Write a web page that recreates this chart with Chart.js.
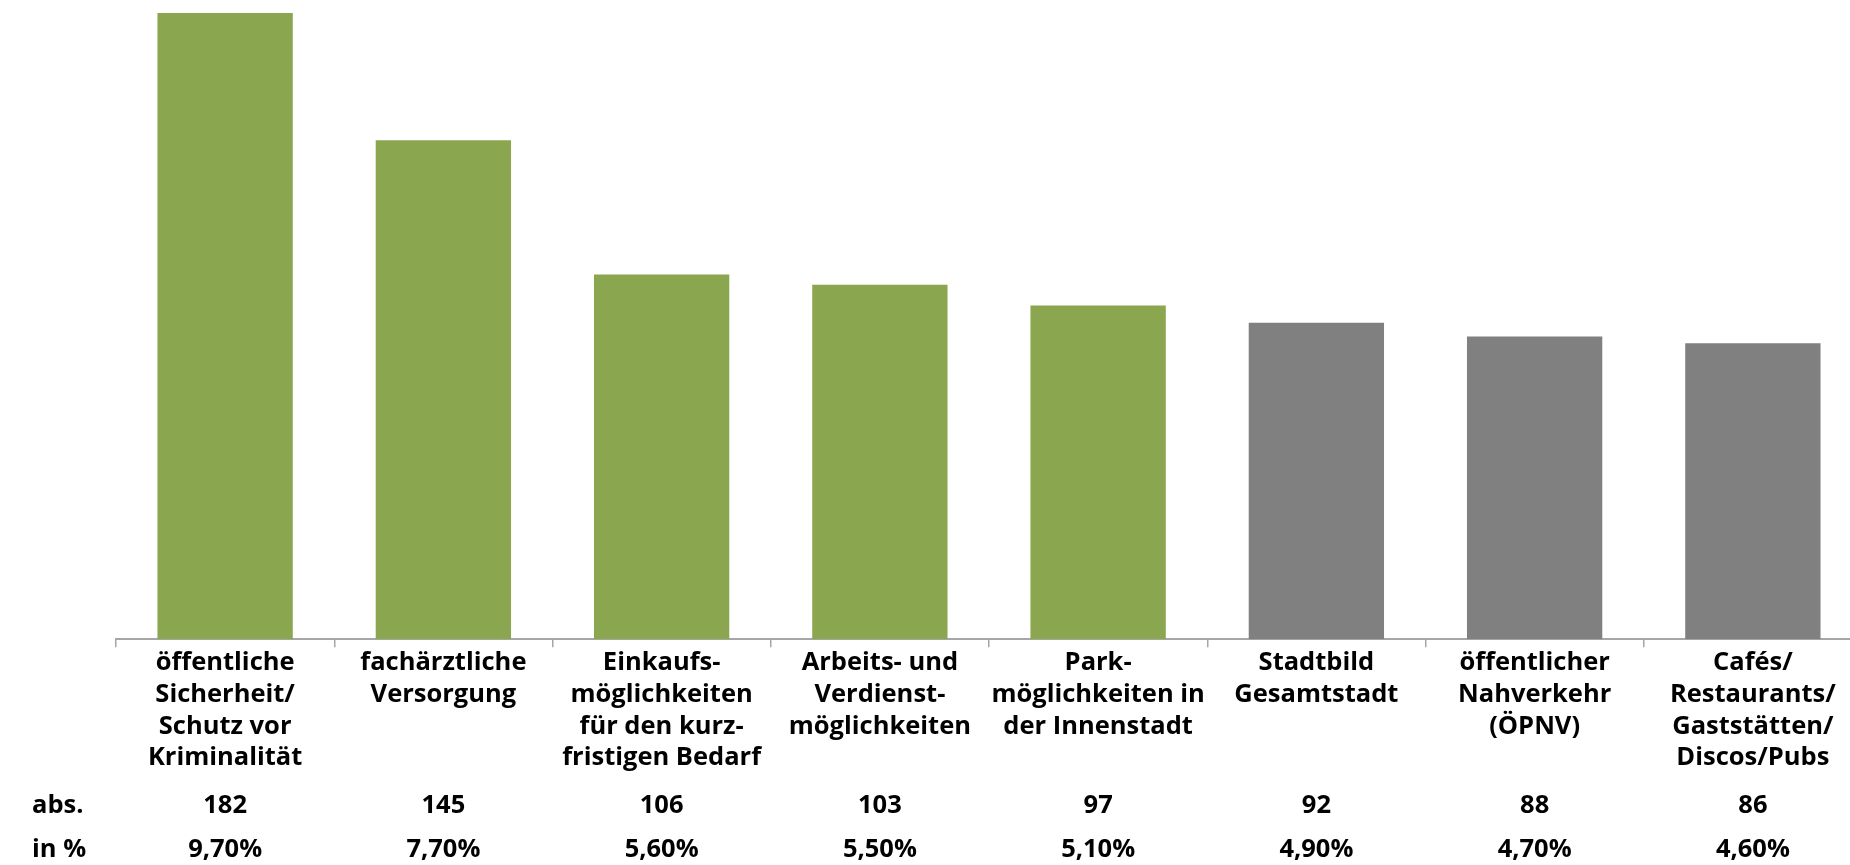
<!DOCTYPE html>
<html>
<head>
<meta charset="utf-8">
<script src="https://cdn.jsdelivr.net/npm/chart.js@4/dist/chart.umd.min.js"></script>
<style>
  html, body { margin: 0; padding: 0; background: #fff; overflow: hidden; }
  #wrap { width: 1862px; height: 865px; }
</style>
</head>
<body>
<div id="wrap"><canvas id="chart" width="1862" height="865"></canvas></div>
<script>
"use strict";

// data
const categories = [
  ["öffentliche", "Sicherheit/", "Schutz vor", "Kriminalität"],
  ["fachärztliche", "Versorgung"],
  ["Einkaufs-", "möglichkeiten", "für den kurz-", "fristigen Bedarf"],
  ["Arbeits- und", "Verdienst-", "möglichkeiten"],
  ["Park-", "möglichkeiten in", "der Innenstadt"],
  ["Stadtbild", "Gesamtstadt"],
  ["öffentlicher", "Nahverkehr", "(ÖPNV)"],
  ["Cafés/", "Restaurants/", "Gaststätten/", "Discos/Pubs"]
];
const absValues = [182, 145, 106, 103, 97, 92, 88, 86];
const pctValues = [9.7, 7.7, 5.6, 5.5, 5.1, 4.9, 4.7, 4.6];
const rowLabels = ["abs.", "in %"];

const greenCount = 5;
const FONT = "'Open Sans', sans-serif";
const FONT_SIZE = 25.5;

function fmtPct(v) {
  return v.toFixed(2).replace(".", ",") + "%";
}

// draws the abs / in % rows under the axis labels
const tableRows = {
  id: "tableRows",
  afterDraw(chart) {
    const ctx = chart.ctx;
    const x = chart.scales.x;
    const base = chart.chartArea.bottom;
    const rows = [
      { y: base + 167, label: rowLabels[0], vals: absValues.map(v => String(v)) },
      { y: base + 210.5, label: rowLabels[1], vals: pctValues.map(fmtPct) }
    ];
    ctx.save();
    ctx.fillStyle = "#000";
    ctx.font = "bold " + FONT_SIZE + "px " + FONT;
    ctx.textBaseline = "middle";
    rows.forEach(r => {
      ctx.textAlign = "left";
      ctx.fillText(r.label, 32, r.y);
      ctx.textAlign = "center";
      r.vals.forEach((s, i) => ctx.fillText(s, x.getPixelForValue(i), r.y));
    });
    ctx.restore();
  }
};

const ctx = document.getElementById("chart").getContext("2d");
new Chart(ctx, {
  type: "bar",
  data: {
    labels: categories,
    datasets: [{
      data: absValues,
      backgroundColor: absValues.map((v, i) => i < greenCount ? "#8aa64e" : "#808080"),
      borderWidth: 0,
      barPercentage: 0.62,
      categoryPercentage: 1
    }]
  },
  options: {
    responsive: false,
    animation: false,
    layout: { padding: { left: 116, top: 13, right: 0, bottom: 91 } },
    plugins: {
      legend: { display: false },
      tooltip: { enabled: false }
    },
    scales: {
      x: {
        offset: true,
        grid: {
          offset: true,
          drawOnChartArea: false,
          drawTicks: true,
          tickLength: 8,
          color: "#a6a6a6",
          lineWidth: 1.5
        },
        border: { display: true, color: "#a6a6a6", width: 2 },
        ticks: {
          color: "#000",
          padding: 0,
          maxRotation: 0,
          autoSkip: false,
          font: { family: FONT, size: FONT_SIZE, weight: "bold", lineHeight: 1.243 }
        }
      },
      y: {
        display: false,
        min: 0,
        max: 182
      }
    }
  },
  plugins: [tableRows]
});
</script>
</body>
</html>
